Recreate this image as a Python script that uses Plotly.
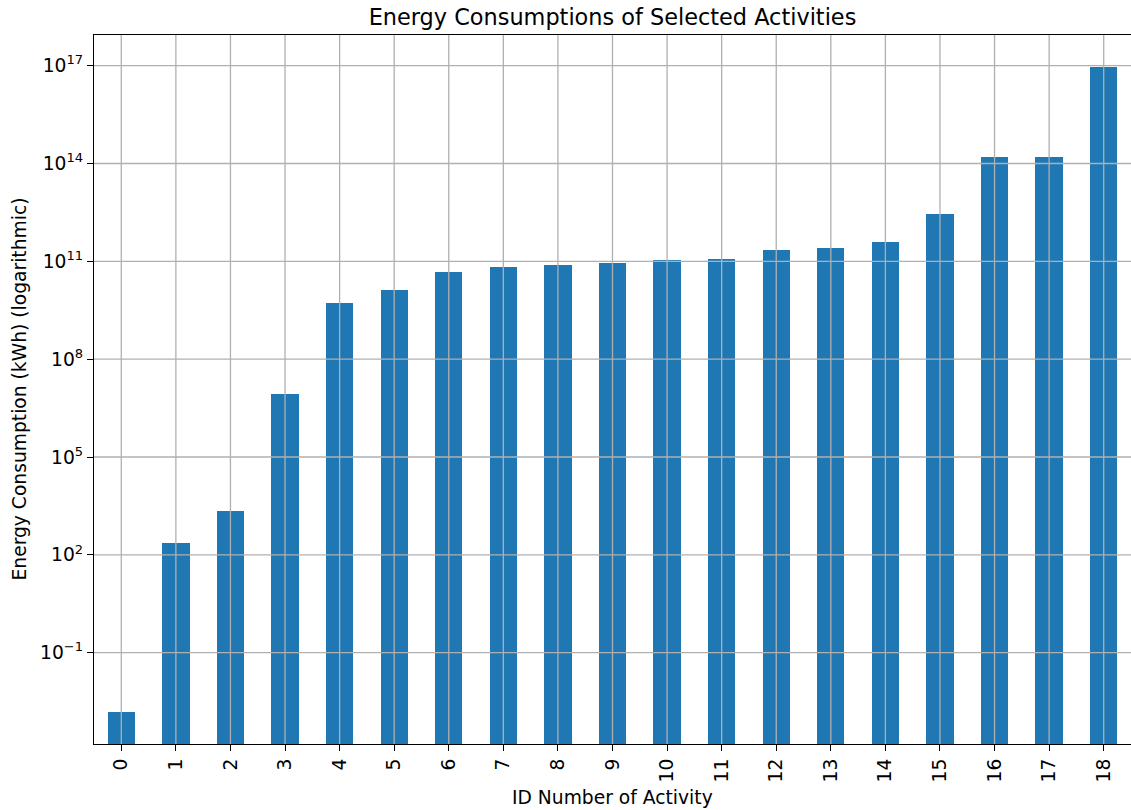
import plotly.graph_objects as go

activity_ids = [str(i) for i in range(19)]
energy_kwh = [1.5e-3, 233, 2250, 8.4e6, 5.3e9, 1.3e10, 4.6e10, 6.6e10, 7.6e10,
              8.7e10, 1.07e11, 1.15e11, 2.3e11, 2.5e11, 3.8e11, 2.75e12,
              1.56e14, 1.56e14, 9.1e16]
ytick_vals = [1e-1, 1e2, 1e5, 1e8, 1e11, 1e14, 1e17]
ytick_text = ["10<sup>\u22121</sup>", "10<sup>2</sup>", "10<sup>5</sup>", "10<sup>8</sup>",
              "10<sup>11</sup>", "10<sup>14</sup>", "10<sup>17</sup>"]

FONT = "DejaVu Sans"
TICK_SIZE = 18.7
LABEL_SIZE = 18.7
TITLE_SIZE = 22.4
GRID = "#b0b0b0"

xpos = list(range(len(activity_ids)))

fig = go.Figure()
fig.add_trace(go.Bar(
    x=xpos, y=energy_kwh, width=0.5,
    marker=dict(color="#1f77b4", line=dict(width=0)),
))

# grid lines drawn above the bars (matplotlib default look here)
shapes = []
for xv in xpos:
    shapes.append(dict(type="line", xref="x", yref="paper", x0=xv, x1=xv, y0=0, y1=1,
                       line=dict(color=GRID, width=1.3), layer="above"))
for yv in ytick_vals:
    shapes.append(dict(type="line", xref="paper", yref="y", x0=0, x1=1, y0=yv, y1=yv,
                       line=dict(color=GRID, width=1.3), layer="above"))

fig.update_layout(
    width=1131, height=810,
    margin=dict(l=94, r=0, t=35, b=66),
    paper_bgcolor="white", plot_bgcolor="white",
    showlegend=False,
    font=dict(family=FONT, size=TICK_SIZE, color="black"),
    title=dict(text="Energy Consumptions of Selected Activities",
               font=dict(family=FONT, size=TITLE_SIZE, color="black"),
               x=0.5, xref="paper", xanchor="center",
               y=1 - 17 / 810, yref="container", yanchor="middle"),
    bargap=0,
    shapes=shapes,
)

fig.update_xaxes(
    range=[-0.5, 18.5],
    tickmode="array", tickvals=xpos, ticktext=activity_ids,
    tickangle=-90,
    ticks="outside", ticklen=6, tickwidth=1.3, tickcolor="black",
    showline=True, linecolor="black", linewidth=1.3, mirror=True,
    showgrid=False,
    zeroline=False,
    tickfont=dict(family=FONT, size=TICK_SIZE, color="black"),
    layer="above traces",
)
fig.update_yaxes(
    type="log", range=[-3.80, 17.94],
    tickmode="array", tickvals=ytick_vals, ticktext=ytick_text,
    ticks="outside", ticklen=6, tickwidth=1.3, tickcolor="black",
    showline=True, linecolor="black", linewidth=1.3, mirror=False,
    showgrid=False,
    zeroline=False,
    tickfont=dict(family=FONT, size=TICK_SIZE, color="black"),
    layer="above traces",
)

fig.add_annotation(text="ID Number of Activity", xref="paper", yref="paper",
                   x=0.5, y=-(797 - 744) / (810 - 35 - 66), xanchor="center", yanchor="middle",
                   showarrow=False, font=dict(family=FONT, size=LABEL_SIZE, color="black"))
fig.add_annotation(text="Energy Consumption (kWh) (logarithmic)", xref="paper", yref="paper",
                   x=-(94 - 19) / (1131 - 94), y=0.5, xanchor="center", yanchor="middle",
                   textangle=-90, showarrow=False,
                   font=dict(family=FONT, size=LABEL_SIZE, color="black"))

fig.write_html("out.html", config={"displayModeBar": False},
               post_script="document.body.style.margin='0';document.body.style.overflow='hidden';")
